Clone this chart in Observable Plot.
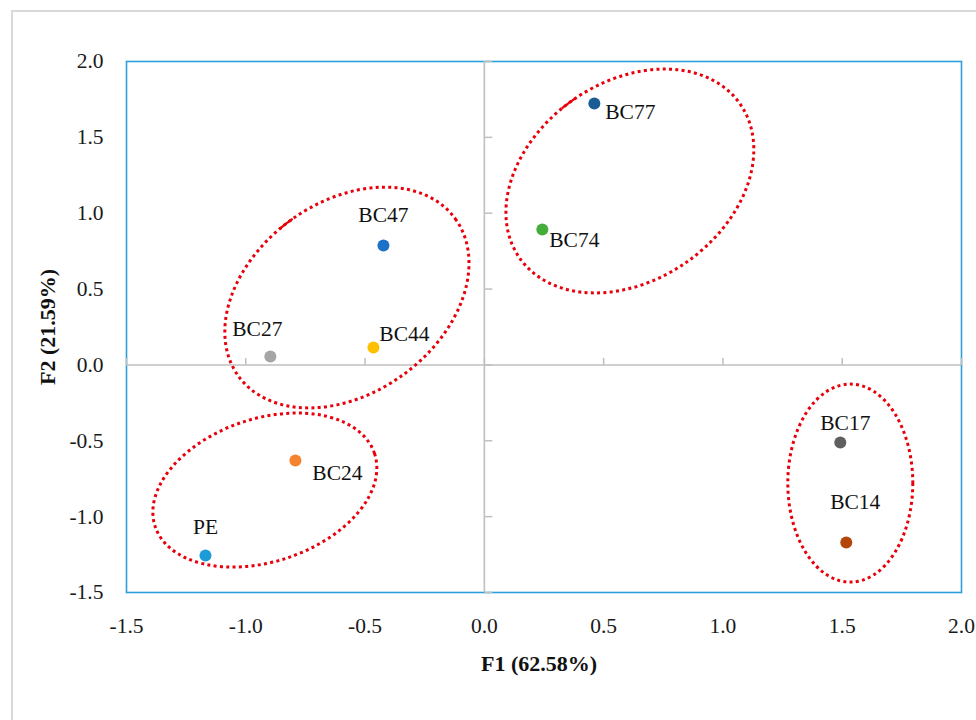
<!DOCTYPE html>
<html>
<head>
<meta charset="utf-8">
<script src="https://cdn.jsdelivr.net/npm/d3@7"></script>
<script src="https://cdn.jsdelivr.net/npm/@observablehq/plot@0.6"></script>
<style>
  html, body { margin: 0; padding: 0; background: #fff; overflow: hidden; }
  #wrap { position: relative; width: 976px; height: 720px; overflow: hidden; }
  #outer { position: absolute; left: 11px; top: 10px; width: 1000px; height: 760px;
           border-top: 2px solid #d9d9d9; border-left: 2px solid #d9d9d9; box-sizing: border-box; }
  #chart { position: absolute; left: 0; top: 0; }
  #chart svg, #chart svg text, #chart svg g { font-family: "Liberation Serif", "DejaVu Serif", serif !important; }
</style>
</head>
<body>
<div id="wrap"><div id="outer"></div><div id="chart"></div></div>
<script>
// ---- data ----
const samples = ["BC77", "BC74", "BC47", "BC44", "BC27", "BC24", "PE", "BC17", "BC14"];
const f1 = [0.461, 0.243, -0.423, -0.465, -0.897, -0.792, -1.169, 1.492, 1.517];
const f2 = [1.723, 0.893, 0.787, 0.115, 0.055, -0.630, -1.256, -0.511, -1.170];
const xTicks = [-1.5, -1.0, -0.5, 0.0, 0.5, 1.0, 1.5, 2.0];
const yTicks = [-1.5, -1.0, -0.5, 0.0, 0.5, 1.0, 1.5, 2.0];
const xTitle = "F1 (62.58%)";
const yTitle = "F2 (21.59%)";
// cluster ellipse centres (data units)
const clusterX = [0.612, -0.574, -0.918, 1.536];
const clusterY = [1.209, 0.441, -0.828, -0.782];

// ---- styles / layout ----
const pointColors = ["#1a5c94", "#45ad3a", "#1d72c7", "#ffc000", "#a5a5a5", "#f5822f", "#1d9bd8", "#5f5f5f", "#b3470b"];
const labelOffset = {
  BC77: [36, 9], BC74: [32, 11], BC47: [0, -30], BC44: [31, -13], BC27: [-13, -27],
  BC24: [42, 13], PE: [0, -28], BC17: [5, -19], BC14: [9, -40]
};
// ellipse shape (pixels, degrees) and whether Excel's short solid start segment shows
const clusterShape = [
  {rx: 134.5, ry: 99, angle: 35, seg: true},
  {rx: 134, ry: 95.6, angle: 36, seg: true},
  {rx: 115.6, ry: 71.5, angle: 18.4, seg: false},
  {rx: 62.5, ry: 99, angle: 0, seg: false}
];
const RED = "#e8000b";
const GRID = "#bfbfbf";
const FONT = '"Liberation Serif", "DejaVu Serif", serif';

const tickUp = {draw(ctx) { ctx.moveTo(0, 0); ctx.lineTo(0, -7); }};
const tickRight = {draw(ctx) { ctx.moveTo(0, 0); ctx.lineTo(8, 0); }};

function clusters(index, scales) {
  const g = d3.create("svg:g");
  clusterX.forEach((xv, i) => {
    const s = clusterShape[i];
    const cx = scales.x(xv), cy = scales.y(clusterY[i]);
    const gg = g.append("g").attr("transform", `translate(${cx},${cy}) rotate(${-s.angle})`);
    gg.append("ellipse").attr("cx", 0).attr("cy", 0).attr("rx", s.rx).attr("ry", s.ry)
      .attr("fill", "none").attr("stroke", RED).attr("stroke-width", 3)
      .attr("stroke-dasharray", "3 3.3");
    if (s.seg) {
      const pts = d3.range(264, 271.5, 0.5).map(t => {
        const a = t * Math.PI / 180;
        return [s.rx * Math.cos(a), s.ry * Math.sin(a)];
      });
      gg.append("path").attr("d", d3.line()(pts)).attr("fill", "none")
        .attr("stroke", RED).attr("stroke-width", 2.2);
    }
  });
  return g.node();
}

const idx = samples.map((_, i) => i);

const chart = Plot.plot({
  width: 976,
  height: 720,
  marginLeft: 126,
  marginRight: 15,
  marginTop: 61,
  marginBottom: 128,
  style: {fontFamily: FONT, fontSize: "21.5px", color: "#1a1a1a", background: "transparent"},
  x: {domain: [-1.5, 2], ticks: xTicks, tickFormat: d => d.toFixed(1), tickSize: 0, tickPadding: 25, label: null},
  y: {domain: [-1.5, 2], ticks: yTicks, tickFormat: d => d.toFixed(1), tickSize: 0, tickPadding: 23, label: null},
  marks: [
    Plot.frame({stroke: "#2a9fda", strokeWidth: 1.6}),
    Plot.ruleX([0], {stroke: GRID, strokeWidth: 1.6}),
    Plot.ruleY([0], {stroke: GRID, strokeWidth: 1.6}),
    Plot.dot(xTicks, {x: d => d, y: () => 0, symbol: tickUp, stroke: GRID, strokeWidth: 1.5, fill: "none"}),
    Plot.dot(yTicks, {x: () => 0, y: d => d, symbol: tickRight, stroke: GRID, strokeWidth: 1.5, fill: "none"}),
    clusters,
    Plot.dot(idx, {x: i => f1[i], y: i => f2[i], r: 6, fill: i => pointColors[i], stroke: "none"}),
    ...idx.map(i => Plot.text([i], {
      x: i => f1[i], y: i => f2[i], text: i => samples[i],
      dx: labelOffset[samples[i]][0], dy: labelOffset[samples[i]][1],
      fontSize: 21.5, fill: "#111", lineAnchor: "middle", fontFamily: FONT
    })),
    Plot.text([xTitle], {frameAnchor: "bottom", dx: -5, dy: 71, textAnchor: "middle", lineAnchor: "middle", fontWeight: "bold", fontSize: 22, fill: "#111", fontFamily: FONT}),
    Plot.text([yTitle], {frameAnchor: "left", dx: -79, rotate: -90, textAnchor: "middle", lineAnchor: "middle", fontWeight: "bold", fontSize: 22, fill: "#111", fontFamily: FONT})
  ]
});
document.getElementById("chart").appendChild(chart);
</script>
</body>
</html>
